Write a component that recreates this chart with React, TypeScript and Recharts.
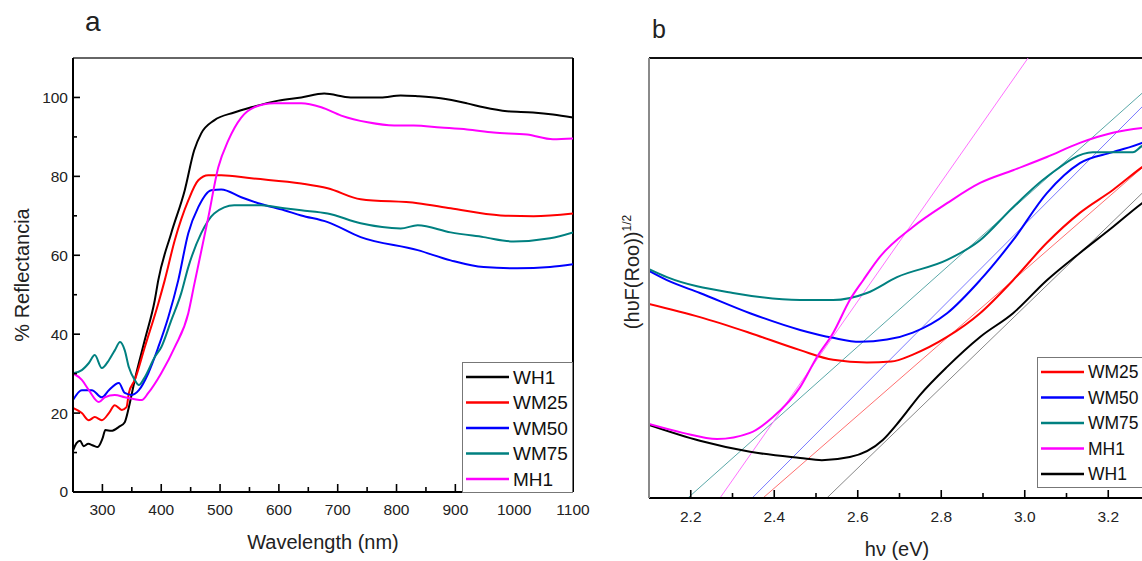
import React from "react";
import { LineChart, Line, XAxis, YAxis, ReferenceLine, Legend } from "recharts";

type Pt = [number, number];

const FONT = '"Liberation Sans", Arial, Helvetica, sans-serif';

// ---- panel a: reflectance vs wavelength ----
const WH1_A: Pt[] = [
  [250, 10.5], [256, 12.4], [262, 13], [268, 11.6], [276, 12.2], [284, 11.8], [292, 11.4],
  [300, 13.5], [305, 15.7], [315, 15.5], [328, 16.5], [338, 17.7], [345, 21.5], [355, 28.4],
  [372, 38.5], [389, 48.6], [395, 53.7], [417, 65.6], [440, 76.5], [456, 86.6], [468, 90.9],
  [490, 94.2], [524, 96.2], [553, 97.5], [599, 99.2], [638, 100.0], [677, 101], [722, 100],
  [773, 100], [807, 100.5], [836, 100.3], [875, 99.8], [920, 98.5], [948, 97.5], [988, 96.5],
  [1032, 96.2], [1066, 95.7], [1100, 94.9],
];
const WM25_A: Pt[] = [
  [250, 21.3], [265, 20], [277, 18.2], [287, 19], [299, 18.2], [311, 20], [321, 22], [333, 20.8],
  [341, 21.5], [345, 25.1], [355, 28.4], [372, 36.7], [395, 47.8], [406, 53.7], [423, 63.8],
  [446, 73.9], [463, 79], [480, 80.3], [502, 80.3], [553, 79.5], [638, 78.2], [683, 77],
  [739, 74.2], [836, 73.2], [892, 71.9], [977, 70.1], [1033, 69.9], [1100, 70.6],
];
const WM50_A: Pt[] = [
  [250, 23.3], [265, 25.8], [282, 25.8], [299, 24], [311, 25.8], [328, 27.6], [338, 25.1],
  [350, 24.6], [362, 25.8], [378, 30.1], [395, 36.7], [412, 44.3], [429, 53.7], [446, 65.6],
  [463, 72.2], [485, 76.5], [502, 76.7], [536, 74.7], [565, 73.2], [609, 71.4], [638, 70.1],
  [683, 68.4], [739, 64.6], [836, 61.3], [892, 58.7], [948, 57], [1005, 56.7], [1061, 57],
  [1100, 57.7],
];
const WM75_A: Pt[] = [
  [250, 30.1], [265, 30.9], [277, 32.7], [287, 34.7], [299, 31.4], [311, 33.4], [321, 35.9],
  [330, 38], [338, 35.9], [345, 31.6], [355, 28.4], [362, 27.1], [372, 29.1], [389, 34.2],
  [400, 36.7], [417, 43.5], [434, 50.4], [446, 57], [468, 65.6], [490, 70.6], [524, 72.7],
  [570, 72.7], [609, 71.9], [638, 71.4], [683, 70.6], [739, 68.1], [807, 66.8], [836, 67.6],
  [892, 65.8], [948, 64.6], [999, 63.5], [1061, 64.3], [1100, 65.8],
];
const MH1_A: Pt[] = [
  [250, 30.1], [265, 28.4], [277, 25.8], [294, 22.8], [304, 24.0], [321, 24.6], [338, 24],
  [355, 23.5], [367, 23.3], [378, 25.1], [400, 30.1], [423, 36.7], [446, 45.3], [456, 52.5],
  [480, 69.6], [497, 82.3], [514, 89.1], [536, 94.9], [558, 97.5], [592, 98.5], [638, 98.5],
  [672, 97.5], [706, 95.4], [751, 93.7], [796, 92.9], [829, 92.9], [875, 92.4], [920, 91.9],
  [965, 91.1], [1022, 90.6], [1066, 89.4], [1100, 89.6],
];

const A_X_TICKS = [300, 350, 400, 450, 500, 550, 600, 650, 700, 750, 800, 850, 900, 950, 1000, 1050, 1100];
const A_X_LABELS = [300, 400, 500, 600, 700, 800, 900, 1000, 1100];
const A_Y_TICKS = [0, 10, 20, 30, 40, 50, 60, 70, 80, 90, 100];
const A_Y_LABELS = [0, 20, 40, 60, 80, 100];

// ---- panel b: (hvF(R))^1/2 vs hv ----
const WM25_B: Pt[] = [
  [2.1, 44.1], [2.222, 41.1], [2.342, 37.5], [2.462, 33.6], [2.541, 31.4], [2.622, 30.8],
  [2.68, 31.0], [2.732, 32.6], [2.814, 36.6], [2.893, 42.0], [2.972, 49.5], [3.053, 58.0],
  [3.132, 64.8], [3.211, 70.0], [3.281, 75.2], [3.3, 76.5],
];
const WM50_B: Pt[] = [
  [2.1, 51.6], [2.143, 49.5], [2.222, 46.6], [2.342, 42.0], [2.462, 38.2], [2.541, 36.4],
  [2.605, 35.5], [2.67, 36.0], [2.732, 37.6], [2.814, 42.0], [2.893, 49.5], [2.972, 58.6],
  [3.053, 69.3], [3.132, 76.1], [3.211, 78.6], [3.281, 80.7], [3.3, 81.5],
];
const WM75_B: Pt[] = [
  [2.1, 52.0], [2.143, 50.2], [2.301, 46.6], [2.462, 45.0], [2.541, 45.0], [2.622, 46.6],
  [2.694, 50.2], [2.814, 54.1], [2.893, 58.6], [2.972, 66.1], [3.053, 73.0], [3.163, 78.6],
  [3.259, 78.6], [3.281, 80.0], [3.3, 80.5],
];
const MH1_B: Pt[] = [
  [2.1, 16.8], [2.181, 14.8], [2.263, 13.4], [2.342, 14.8], [2.397, 18.4], [2.462, 25.2],
  [2.502, 32.0], [2.541, 37.5], [2.581, 45.0], [2.613, 49.5], [2.653, 54.8], [2.732, 61.6],
  [2.814, 67.0], [2.893, 71.6], [2.972, 74.5], [3.053, 77.5], [3.132, 80.7], [3.211, 83.0],
  [3.281, 84.1], [3.3, 84.3],
];
const WH1_B: Pt[] = [
  [2.1, 16.6], [2.222, 13.0], [2.342, 10.5], [2.462, 9.1], [2.514, 8.6], [2.581, 9.3],
  [2.66, 13.2], [2.7, 17.5], [2.75, 23.5], [2.814, 29.8], [2.893, 36.6], [2.972, 42.0],
  [3.053, 49.5], [3.132, 55.7], [3.211, 61.6], [3.281, 67.0], [3.3, 68.3],
];
// linear fits (band-gap extrapolation)
const FIT_WM25: Pt[] = [[2.373, 0], [3.3, 76.6]];
const FIT_WM50: Pt[] = [[2.347, 0], [3.3, 90.7]];
const FIT_WM75: Pt[] = [[2.193, 0], [3.3, 93.6]];
const FIT_MH1: Pt[] = [[2.27, 0], [3.008, 100]];
const FIT_WH1: Pt[] = [[2.526, 0], [3.3, 71.0]];

const B_X_TICKS = [2.2, 2.3, 2.4, 2.5, 2.6, 2.7, 2.8, 2.9, 3.0, 3.1, 3.2, 3.3];
const B_X_LABELS = [2.2, 2.4, 2.6, 2.8, 3.0, 3.2];

const rows = (pts: Pt[]) => pts.map(([x, y]) => ({ x, y }));

const SERIES_A = [
  { name: "WH1", color: "#000000", pts: WH1_A },
  { name: "WM25", color: "#ff0000", pts: WM25_A },
  { name: "WM50", color: "#0000ff", pts: WM50_A },
  { name: "WM75", color: "#008080", pts: WM75_A },
  { name: "MH1", color: "#ff00ff", pts: MH1_A },
];

const SERIES_B = [
  { name: "WM25", color: "#ff0000", pts: WM25_B, fit: FIT_WM25, fitColor: "#ff7070" },
  { name: "WM50", color: "#0000ff", pts: WM50_B, fit: FIT_WM50, fitColor: "#7a7aff" },
  { name: "WM75", color: "#008080", pts: WM75_B, fit: FIT_WM75, fitColor: "#5aa8a8" },
  { name: "MH1", color: "#ff00ff", pts: MH1_B, fit: FIT_MH1, fitColor: "#ff70ff" },
  { name: "WH1", color: "#000000", pts: WH1_B, fit: FIT_WH1, fitColor: "#888888" },
];
// WH1 is drawn first so MH1 sits on top of it at low energy
const DRAW_ORDER_B = ["WH1", "WM25", "WM50", "WM75", "MH1"];

const isIn = (list: number[], v: number) => list.some((l) => Math.abs(l - v) < 1e-6);

const makeXTick = (labels: number[], fmt: (v: number) => string, gap: number) => (p: any) => {
  const v = p.payload.value;
  const major = isIn(labels, v);
  return (
    <g>
      <line x1={p.x} x2={p.x} y1={p.y} y2={p.y - (major ? 8 : 5)} stroke="#000" strokeWidth={1.6} />
      {major && (
        <text x={p.x} y={p.y + gap} dy="0.35em" textAnchor="middle" fontSize={15.5} fill="#222" fontFamily={FONT}>
          {fmt(v)}
        </text>
      )}
    </g>
  );
};

const makeYTick = (labels: number[]) => (p: any) => {
  const v = p.payload.value;
  const major = isIn(labels, v);
  return (
    <g>
      <line x1={p.x} x2={p.x + (major ? 7 : 4)} y1={p.y} y2={p.y} stroke="#000" strokeWidth={1.6} />
      {major && (
        <text x={p.x - 5} y={p.y} dy="0.35em" textAnchor="end" fontSize={15.5} fill="#222" fontFamily={FONT}>
          {v}
        </text>
      )}
    </g>
  );
};

function LegendBox({
  items,
  w,
  h,
  fs,
}: {
  items: { name: string; color: string }[];
  w: number;
  h: number;
  fs: number;
}) {
  return (
    <div style={{ width: w, height: h, boxSizing: "border-box", border: "1px solid #777", background: "#fff" }}>
      <svg width={w} height={h - 2} style={{ display: "block" }}>
        {items.map((it, i) => {
          const cy = 14 + i * 25.5;
          return (
            <g key={it.name}>
              <line x1={3} x2={46} y1={cy} y2={cy} stroke={it.color} strokeWidth={2.5} />
              <text x={50} y={cy} dy="0.36em" fontSize={fs} fill="#111" fontFamily={FONT}>
                {it.name}
              </text>
            </g>
          );
        })}
      </svg>
    </div>
  );
}

function PanelA() {
  return (
    <LineChart width={600} height={561} margin={{ top: 58, right: 27, bottom: 68, left: 72 }}>
      <XAxis
        dataKey="x"
        type="number"
        domain={[250, 1100]}
        allowDataOverflow
        ticks={A_X_TICKS}
        interval={0}
        height={1}
        tickSize={0}
        tickMargin={0}
        tickLine={false}
        axisLine={{ stroke: "#000", strokeWidth: 2 }}
        tick={makeXTick(A_X_LABELS, (v) => String(v), 18)}
      />
      <YAxis
        type="number"
        domain={[0, 110]}
        allowDataOverflow
        ticks={A_Y_TICKS}
        interval={0}
        width={1}
        tickSize={0}
        tickMargin={0}
        tickLine={false}
        axisLine={{ stroke: "#000", strokeWidth: 2 }}
        tick={makeYTick(A_Y_LABELS)}
      />
      <ReferenceLine y={110} stroke="#666" strokeWidth={2} />
      <ReferenceLine x={1100} stroke="#000" strokeWidth={2} />
      {SERIES_A.map((s) => (
        <Line
          key={s.name}
          type="monotone"
          data={rows(s.pts)}
          dataKey="y"
          name={s.name}
          stroke={s.color}
          strokeWidth={2}
          dot={false}
          activeDot={false}
          isAnimationActive={false}
        />
      ))}
      <Legend
        layout="vertical"
        align="center"
        verticalAlign="middle"
        wrapperStyle={{ left: 462, top: 362, width: 111, height: 131 }}
        content={() => <LegendBox items={SERIES_A} w={111} h={131} fs={19} />}
      />
    </LineChart>
  );
}

function PanelB() {
  const ordered = DRAW_ORDER_B.map((n) => SERIES_B.find((s) => s.name === n)!);
  return (
    <LineChart width={560} height={561} margin={{ top: 58, right: 10, bottom: 62, left: 48 }}>
      <XAxis
        dataKey="x"
        type="number"
        domain={[2.1, 3.3]}
        allowDataOverflow
        ticks={B_X_TICKS}
        interval={0}
        height={1}
        tickSize={0}
        tickMargin={0}
        tickLine={false}
        axisLine={{ stroke: "#000", strokeWidth: 2 }}
        tick={makeXTick(B_X_LABELS, (v) => v.toFixed(1), 19)}
      />
      <YAxis
        type="number"
        domain={[0, 100]}
        allowDataOverflow
        width={1}
        tick={false}
        tickLine={false}
        axisLine={{ stroke: "#8a8a8a", strokeWidth: 2 }}
      />
      <ReferenceLine y={100} stroke="#111" strokeWidth={2} />
      {SERIES_B.map((s) => (
        <Line
          key={"fit-" + s.name}
          data={rows(s.fit)}
          dataKey="y"
          name={s.name + " fit"}
          legendType="none"
          stroke={s.fitColor}
          strokeWidth={1}
          dot={false}
          activeDot={false}
          isAnimationActive={false}
        />
      ))}
      {ordered.map((s) => (
        <Line
          key={s.name}
          type="monotone"
          data={rows(s.pts)}
          dataKey="y"
          name={s.name}
          stroke={s.color}
          strokeWidth={2}
          dot={false}
          activeDot={false}
          isAnimationActive={false}
        />
      ))}
      <Legend
        layout="vertical"
        align="center"
        verticalAlign="middle"
        wrapperStyle={{ left: 437, top: 357, width: 150, height: 131 }}
        content={() => <LegendBox items={SERIES_B} w={150} h={131} fs={17.5} />}
      />
    </LineChart>
  );
}

const abs = (s: React.CSSProperties): React.CSSProperties => ({ position: "absolute", ...s });

export default function App() {
  return (
    <div
      style={{
        position: "absolute",
        left: 0,
        top: 0,
        width: 1142,
        height: 561,
        overflow: "hidden",
        background: "#fff",
        fontFamily: FONT,
        color: "#222",
      }}
    >
      <div style={abs({ left: 0, top: 0 })}>
        <PanelA />
      </div>
      <div style={abs({ left: 600, top: 0 })}>
        <PanelB />
      </div>

      <div style={abs({ left: 85, top: 8, fontSize: 28, lineHeight: 1 })}>a</div>
      <div style={abs({ left: 652, top: 17, fontSize: 25, lineHeight: 1 })}>b</div>

      <div style={abs({ left: 223, top: 532, width: 200, textAlign: "center", fontSize: 20, lineHeight: 1 })}>
        Wavelength (nm)
      </div>
      <div
        style={abs({
          left: 22 - 100,
          top: 275 - 10,
          width: 200,
          height: 20,
          textAlign: "center",
          fontSize: 20,
          lineHeight: "20px",
          transform: "rotate(-90deg)",
        })}
      >
        % Reflectancia
      </div>

      <div style={abs({ left: 797, top: 539, width: 200, textAlign: "center", fontSize: 20, lineHeight: 1 })}>
        hν (eV)
      </div>
      <div
        style={abs({
          left: 627 - 100,
          top: 272 - 10,
          width: 200,
          height: 20,
          textAlign: "center",
          fontSize: 20,
          lineHeight: "20px",
          transform: "rotate(-90deg)",
          whiteSpace: "nowrap",
        })}
      >
        (hυF(Roo))<sup style={{ fontSize: 12, verticalAlign: "8px" }}>1/2</sup>
      </div>
    </div>
  );
}
